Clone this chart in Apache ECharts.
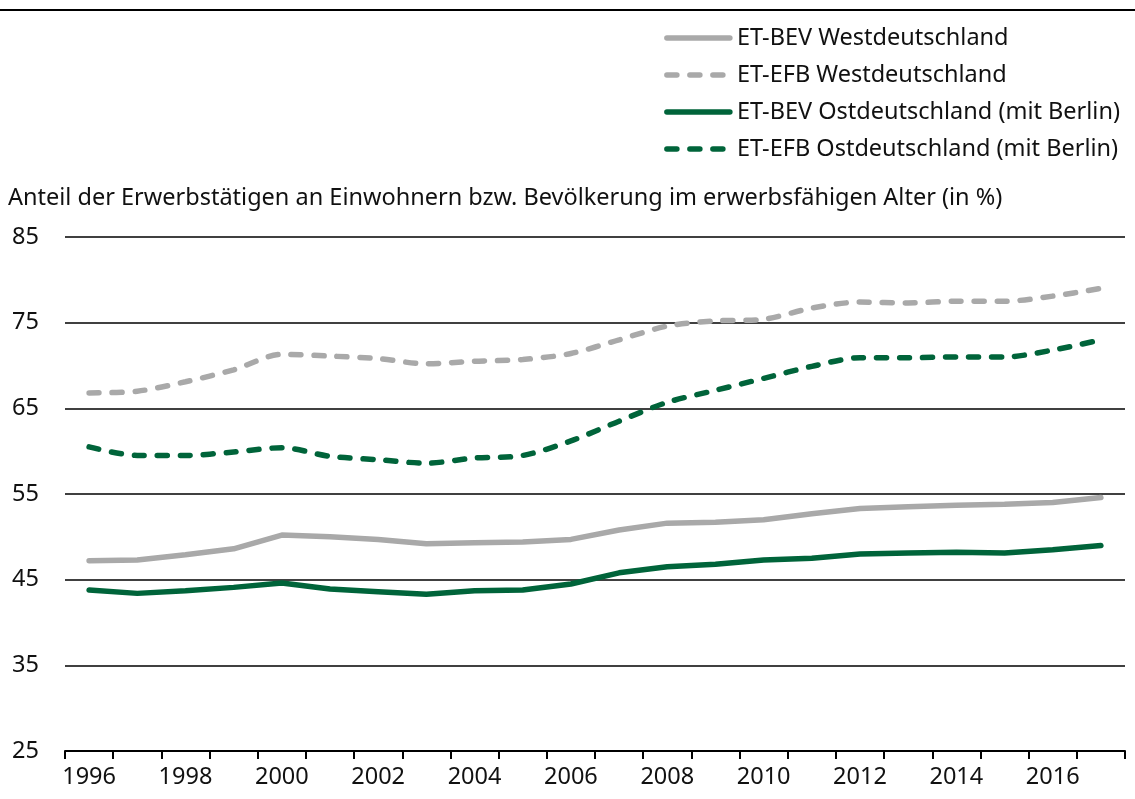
<!DOCTYPE html>
<html>
<head>
<meta charset="utf-8">
<script src="https://cdn.jsdelivr.net/npm/echarts@6/dist/echarts.min.js"></script>
<style>
  html, body { margin: 0; padding: 0; background: #fff; }
  #chart { width: 1135px; height: 799px; }
</style>
</head>
<body>
<div id="chart"></div>
<script>
const years = ['1996','1997','1998','1999','2000','2001','2002','2003','2004','2005','2006',
  '2007','2008','2009','2010','2011','2012','2013','2014','2015','2016','2017'];

const bevWest = [47.2, 47.3, 47.9, 48.6, 50.2, 50.0, 49.7, 49.2, 49.3, 49.4, 49.7,
  50.8, 51.6, 51.7, 52.0, 52.7, 53.3, 53.5, 53.7, 53.8, 54.0, 54.6];
const efbWest = [66.8, 67.0, 68.1, 69.5, 71.3, 71.1, 70.8, 70.2, 70.5, 70.7, 71.4,
  73.0, 74.6, 75.2, 75.4, 76.7, 77.4, 77.3, 77.5, 77.5, 78.1, 79.0];
const bevOst = [43.8, 43.4, 43.7, 44.1, 44.6, 43.9, 43.6, 43.3, 43.7, 43.8, 44.5,
  45.8, 46.5, 46.8, 47.3, 47.5, 48.0, 48.1, 48.2, 48.1, 48.5, 49.0];
const efbOst = [60.5, 59.5, 59.5, 59.9, 60.4, 59.4, 59.0, 58.6, 59.2, 59.5, 61.2,
  63.5, 65.7, 67.1, 68.5, 69.9, 70.9, 70.9, 71.0, 71.0, 71.8, 73.0];

const grey = '#a9a9a9';
const green = '#00643a';
const font = 'Noto Sans';
const fs = 23.5;

const chart = echarts.init(document.getElementById('chart'));

function line(name, data, color, type, smooth) {
  return {
    name: name,
    type: 'line',
    data: data,
    symbol: 'none',
    smooth: smooth,
    lineStyle: { color: color, width: 5.5, type: type, cap: 'round' },
    itemStyle: { color: color }
  };
}

chart.setOption({
  animation: false,
  textStyle: { fontFamily: font },
  graphic: [
    { type: 'rect', shape: { x: 0, y: 9, width: 1135, height: 2 }, style: { fill: '#000' } },
    { type: 'text', left: 8, top: 186,
      style: { text: 'Anteil der Erwerbstätigen an Einwohnern bzw. Bevölkerung im erwerbsfähigen Alter (in %)',
        fontSize: fs, fontFamily: font, fill: '#111' } }
  ],
  legend: {
    orient: 'vertical',
    right: 10,
    top: 18,
    itemWidth: 63,
    itemHeight: 14,
    itemGap: 7,
    itemStyle: { opacity: 0 },
    lineStyle: { width: 5.5, cap: 'round' },
    textStyle: { fontSize: fs, color: '#111', lineHeight: 30, padding: [0, 0, 0, 2] },
    data: ['ET-BEV Westdeutschland', 'ET-EFB Westdeutschland',
      'ET-BEV Ostdeutschland (mit Berlin)', 'ET-EFB Ostdeutschland (mit Berlin)']
  },
  grid: { left: 65, right: 10, top: 237, bottom: 48 },
  xAxis: {
    type: 'category',
    data: years,
    boundaryGap: true,
    axisLine: { lineStyle: { color: '#000', width: 2 } },
    axisTick: { show: true, interval: 0, length: 8, lineStyle: { color: '#000', width: 2 } },
    axisLabel: { interval: 1, fontSize: fs, color: '#111', margin: 14 }
  },
  yAxis: {
    type: 'value',
    min: 25,
    max: 85,
    interval: 10,
    axisLine: { show: false },
    axisTick: { show: false },
    axisLabel: { fontSize: fs, color: '#111', align: 'left', margin: 53 },
    splitLine: { lineStyle: { color: '#000', width: 1.5 } }
  },
  series: [
    line('ET-BEV Westdeutschland', bevWest, grey, 'solid', false),
    line('ET-EFB Westdeutschland', efbWest, grey, [10, 13], 0.3),
    line('ET-BEV Ostdeutschland (mit Berlin)', bevOst, green, 'solid', false),
    line('ET-EFB Ostdeutschland (mit Berlin)', efbOst, green, [10, 13], 0.3)
  ]
});
</script>
</body>
</html>
